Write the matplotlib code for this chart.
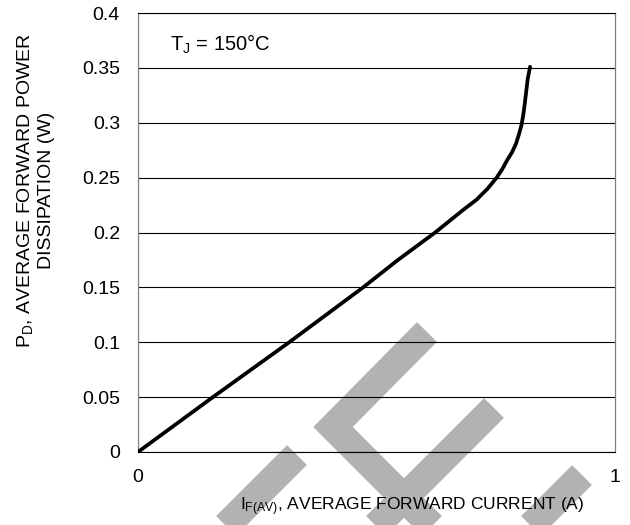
import matplotlib
matplotlib.use("Agg")
import matplotlib.pyplot as plt
from matplotlib.lines import Line2D

plt.rcParams['font.family'] = ['Liberation Sans', 'DejaVu Sans']
plt.rcParams['mathtext.fontset'] = 'custom'
plt.rcParams['mathtext.rm'] = 'Liberation Sans'
plt.rcParams['mathtext.it'] = 'Liberation Sans'

# Data
current = [0.0, 0.157, 0.317, 0.472, 0.545, 0.623, 0.680, 0.710, 0.733, 0.752,
           0.764, 0.774, 0.784, 0.7925, 0.799, 0.804, 0.808, 0.811, 0.8135, 0.817, 0.822]
power = [0.0, 0.05, 0.10, 0.15, 0.175, 0.20, 0.22, 0.23, 0.24, 0.25,
         0.258, 0.266, 0.273, 0.281, 0.29, 0.298, 0.308, 0.318, 0.327, 0.34, 0.351]
yticks = [0, 0.05, 0.1, 0.15, 0.2, 0.25, 0.3, 0.35, 0.4]
yticklabels = ['0', '0.05', '0.1', '0.15', '0.2', '0.25', '0.3', '0.35', '0.4']
xticks = [0, 1]
xticklabels = ['0', '1']

W, H = 630, 525
fig = plt.figure(figsize=(W / 100, H / 100), dpi=100)
fig.patch.set_facecolor('white')

L, R, T, B = 138, 615, 13, 452
ax = fig.add_axes([L / W, 1 - B / H, (R - L) / W, (B - T) / H])
ax.patch.set_facecolor('none')

# watermark (figure pixel coords)
def fp(pts):
    xs = [p[0] / W for p in pts]
    ys = [1 - p[1] / H for p in pts]
    return xs, ys

wm_color = '#b2b2b2'
wm_lw = 28 * 72 / 100
strokes = [
    [(427, 332), (333, 427), (440, 534)],
    [(494, 408), (360, 542)],
    [(297, 455), (210, 542)],
    [(582, 475), (515, 542)],
]
for s in strokes:
    xs, ys = fp(s)
    ln = Line2D(xs, ys, transform=fig.transFigure, color=wm_color, lw=wm_lw,
                solid_capstyle='butt', solid_joinstyle='miter', zorder=-1)
    fig.add_artist(ln)

ax.plot(current, power, color='black', lw=2.7, solid_capstyle='round',
        solid_joinstyle='round', zorder=3)

ax.set_xlim(0, 1)
ax.set_ylim(0, 0.4)
ax.set_yticks(yticks)
ax.set_yticklabels(yticklabels)
ax.set_xticks(xticks)
ax.set_xticklabels(xticklabels)
ax.tick_params(length=0, labelsize=14, colors='black')
ax.tick_params(axis='y', pad=13)
ax.tick_params(axis='x', pad=12)

ax.yaxis.grid(True, color='black', lw=0.8)
ax.xaxis.grid(False)
for side in ['top', 'bottom']:
    ax.spines[side].set_color('black')
    ax.spines[side].set_linewidth(0.8)
for side in ['left', 'right']:
    ax.spines[side].set_color('#808080')
    ax.spines[side].set_linewidth(0.9)

ax.text(0.067, 0.371, r'T$_\mathregular{J}$ = 150°C', fontsize=14.5, va='center', ha='left')

fig.text(412 / W, 1 - 507 / H, r'I$_\mathregular{F(AV)}$, AVERAGE FORWARD CURRENT (A)',
         fontsize=12.5, ha='center', va='center')
fig.text(35 / W, 1 - 190 / H,
         'P$_\\mathregular{D}$, AVERAGE FORWARD POWER\nDISSIPATION (W)',
         fontsize=14, ha='center', va='center', rotation=90, linespacing=1.2)

fig.savefig('out.png', dpi=100)
